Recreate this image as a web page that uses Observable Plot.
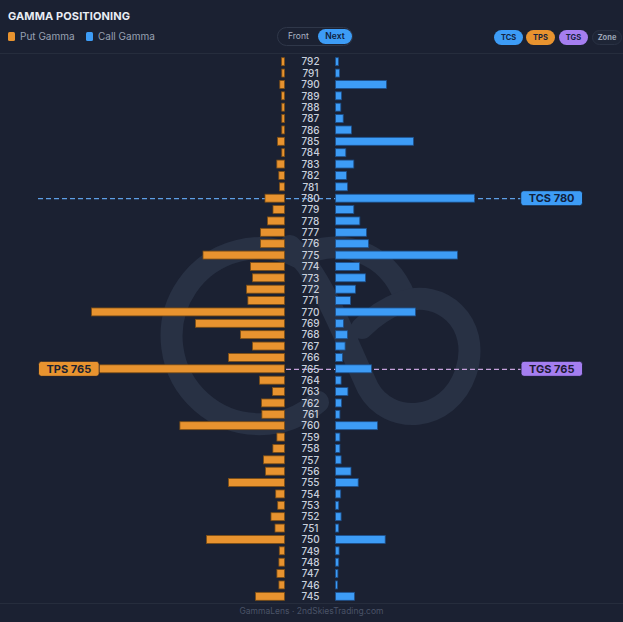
<!DOCTYPE html>
<html><head><meta charset="utf-8">
<script src="https://cdn.jsdelivr.net/npm/d3@7"></script>
<script src="https://cdn.jsdelivr.net/npm/@observablehq/plot@0.6"></script>
<style>
html,body{margin:0;padding:0;background:#1b2132;}
body{width:623px;height:622px;position:relative;overflow:hidden;font-family:Inter,"Open Sans",sans-serif;}
.abs{position:absolute;}
#title{left:8px;top:9px;font-size:11px;font-weight:700;color:#e9edf4;letter-spacing:0.1px;}
.leg{top:30px;font-size:10px;color:#98a1b3;display:flex;align-items:center;}
.sw{width:7px;height:9px;border-radius:1.5px;margin-right:5px;display:inline-block;}
#toggle{left:277px;top:27px;width:74px;height:17px;border:1px solid #2f3749;border-radius:10px;}
#front{left:10px;top:3px;font-size:8.5px;color:#aab2c2;}
#next{left:40px;top:1px;width:34px;height:15px;border-radius:8px;background:#3d9cf6;color:#10203a;font-size:8.5px;font-weight:600;text-align:center;line-height:15px;}
.pill{top:30px;width:29px;height:15px;border-radius:8px;font-size:7.5px;font-weight:700;color:#14233e;text-align:center;line-height:15px;}
.sep{left:0;width:623px;height:1px;background:#262d3d;}
#footer{left:0;width:623px;top:606px;text-align:center;font-size:8.5px;color:#4a5367;}
#wm{left:0;top:0;}
#chart{left:0;top:50px;}
</style></head><body>
<svg id="wm" class="abs" width="623" height="622">
  <g fill="none" stroke="#283144" stroke-width="22" stroke-linecap="round">
    <path d="M 300,258 A 88 88 0 1 0 318,402"/>
    <path d="M 300,256 C 340,236 388,252 405,298"/>
    <path d="M 290,246 C 322,275 342,332 368,388 C 388,425 448,425 466,372 C 482,322 440,288 402,302 C 386,308 372,318 362,328"/>
  </g>
</svg>
<div id="title" class="abs">GAMMA POSITIONING</div>
<div class="abs leg" style="left:8px"><span class="sw" style="background:#e8932f"></span>Put Gamma</div>
<div class="abs leg" style="left:86px"><span class="sw" style="background:#3d9cf6"></span>Call Gamma</div>
<div id="toggle" class="abs"><div id="front" class="abs">Front</div><div id="next" class="abs">Next</div></div>
<div class="abs pill" style="left:494px;background:#3d9cf6">TCS</div>
<div class="abs pill" style="left:526px;background:#e8932f">TPS</div>
<div class="abs pill" style="left:559px;background:#a57ef0">TGS</div>
<div class="abs pill" style="left:592px;background:#1e2536;border:1px solid #2a3244;width:28px;height:13px;line-height:13px;color:#9aa3b4;top:30px">Zone</div>
<div class="abs sep" style="top:53px"></div>
<div class="abs sep" style="top:603px"></div>
<div id="footer" class="abs">GammaLens · 2ndSkiesTrading.com</div>
<div id="chart" class="abs"></div>
<script>
const strikes = [792,791,790,789,788,787,786,785,784,783,782,781,780,779,778,777,776,775,774,773,772,771,770,769,768,767,766,765,764,763,762,761,760,759,758,757,756,755,754,753,752,751,750,749,748,747,746,745];
const putGamma = [3,2.7,4.7,3,2.7,2.7,2.7,7,2.7,7.7,5.7,5,19.5,11.5,17,24,24,81.5,34,32,38,36.6,193,89,44,32,56,246,25,12,23,22.6,104.6,7.6,11.6,21,19,56,8.8,6.8,13.5,9.5,78,5.2,5.6,7.6,5.6,29];
const callGamma = [3,4,51,6,5.3,7.7,16,78,10.3,18.3,11,12,139,18.3,24.3,31,33,122,24,30,20,15,80,8,12,9.6,7,36,5.6,12.4,6,4.4,42,4.4,4.4,5.6,15.5,22.7,5.2,3.2,5.6,3.2,49.7,3.6,3.2,2.4,2,19];
const levelNames = ["TCS","TPS","TGS"];
const levelStrikes = [780,765,765];

const rows = strikes.map((s,i)=>({strike:s, put:putGamma[i], call:callGamma[i]}));
const levels = levelNames.map((n,i)=>({name:n, strike:levelStrikes[i], label:`${n} ${levelStrikes[i]}`}));
const GAP = 25.5;
const colors = {TCS:"#3d9cf6", TPS:"#e8932f", TGS:"#a57ef0"};
const textColors = {TCS:"#11213d", TPS:"#1a2233", TGS:"#1d1a33"};
const lineColors = {TCS:"#5d9fe6", TGS:"#c6a2dc"};
const leftLevels = levels.filter(d=>d.name==="TPS");
const rightLevels = levels.filter(d=>d.name!=="TPS");

const chart = Plot.plot({
  width:623, height:553,
  marginLeft:38, marginRight:41, marginTop:6, marginBottom:1,
  style:{background:"transparent", fontFamily:"Inter, 'Open Sans', sans-serif"},
  x:{domain:[-272,272], axis:null},
  y:{type:"band", domain:strikes, paddingInner:0.3, paddingOuter:0.15, round:false, axis:null},
  marks:[
    Plot.ruleY(rightLevels, {y:"strike", stroke:d=>lineColors[d.name], strokeWidth:1.3, strokeDasharray:"5,3"}),
    Plot.barX(rows, {y:"strike", x1:()=>-GAP, x2:d=>-GAP-d.put, fill:"#e8932f", stroke:"#7c4e15", strokeWidth:0.8}),
    Plot.barX(rows, {y:"strike", x1:()=>GAP, x2:d=>GAP+d.call, fill:"#3d9cf6", stroke:"#1d4f8a", strokeWidth:0.8}),
    Plot.text(rows, {y:"strike", x:()=>0, text:d=>String(d.strike), fill:"#c8cfdc", fontSize:10, fontWeight:500}),
    Plot.text(leftLevels, {y:"strike", text:"label", frameAnchor:"left", textAnchor:"start", dx:8,
      fill:d=>textColors[d.name], fontSize:11, fontWeight:700}),
    Plot.text(rightLevels, {y:"strike", text:"label", frameAnchor:"right", textAnchor:"end", dx:-8,
      fill:d=>textColors[d.name], fontSize:11, fontWeight:700})
  ]
});
document.getElementById("chart").appendChild(chart);

// badge backgrounds behind the level labels
const byLabel = new Map(levels.map(d=>[d.label, d]));
chart.querySelectorAll("text").forEach(t=>{
  const lv = byLabel.get(t.textContent.trim());
  if (!lv) return;
  const b = t.getBBox();
  const r = document.createElementNS("http://www.w3.org/2000/svg","rect");
  r.setAttribute("x", b.x-8); r.setAttribute("width", b.width+16);
  r.setAttribute("y", b.y+b.height/2-7.5); r.setAttribute("height", 15);
  r.setAttribute("rx", 3); r.setAttribute("fill", colors[lv.name]);
  r.setAttribute("stroke", "#12182a"); r.setAttribute("stroke-width", 0.8);
  const tr = t.getAttribute("transform");
  if (tr) r.setAttribute("transform", tr);
  t.parentNode.insertBefore(r, t);
});
</script>
</body></html>
